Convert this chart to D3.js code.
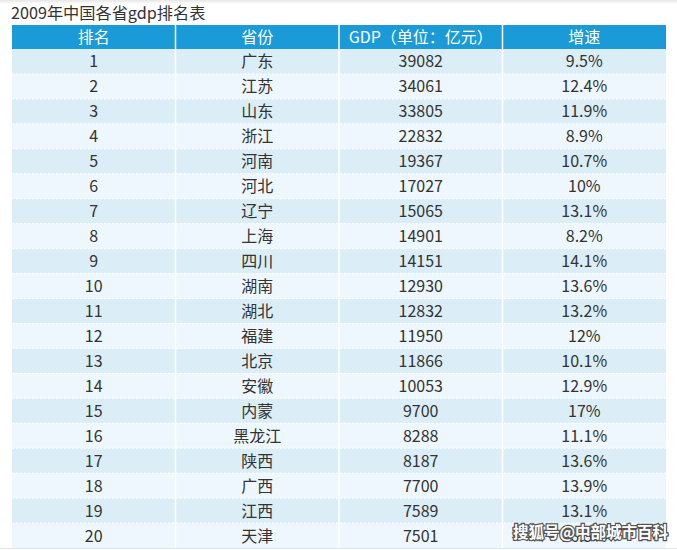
<!DOCTYPE html>
<html>
<head>
<meta charset="utf-8">
<script src="https://cdn.jsdelivr.net/npm/d3@7"></script>
<style>
  body { margin: 0; background: #fff; }
  svg { display: block; }
  text { font-family: "Noto Sans CJK SC", "Microsoft YaHei", sans-serif; }
</style>
</head>
<body>
<svg class="svg"></svg>
<script>
const title = '2009年中国各省gdp排名表';
const headers = ['排名', '省份', 'GDP（单位：亿元）', '增速'];
const ranks = [1, 2, 3, 4, 5, 6, 7, 8, 9, 10, 11, 12, 13, 14, 15, 16, 17, 18, 19, 20];
const provinces = ['广东', '江苏', '山东', '浙江', '河南', '河北', '辽宁', '上海', '四川', '湖南',
  '湖北', '福建', '北京', '安徽', '内蒙', '黑龙江', '陕西', '广西', '江西', '天津'];
const gdp = [39082, 34061, 33805, 22832, 19367, 17027, 15065, 14901, 14151, 12930,
  12832, 11950, 11866, 10053, 9700, 8288, 8187, 7700, 7589, 7501];
const growth = ['9.5%', '12.4%', '11.9%', '8.9%', '10.7%', '10%', '13.1%', '8.2%', '14.1%', '13.6%',
  '13.2%', '12%', '10.1%', '12.9%', '17%', '11.1%', '13.6%', '13.9%', '13.1%', '16.5%'];

const width = 677;
const height = 550;

const svg = d3.select('.svg').attr('width', width).attr('height', height);

// faint shadow along the top edge
const defs = svg.append('defs');
const grad = defs.append('linearGradient')
  .attr('id', 'top-shadow')
  .attr('x1', 0).attr('y1', 0).attr('x2', 0).attr('y2', 1);
grad.append('stop').attr('offset', '0%').attr('stop-color', '#e6e6e6');
grad.append('stop').attr('offset', '100%').attr('stop-color', '#fff');
svg.append('rect').attr('x', 0).attr('y', 0).attr('width', width).attr('height', 4)
  .attr('fill', 'url(#top-shadow)');

svg.append('text')
  .attr('x', 11)
  .attr('y', 19)
  .attr('fill', '#333')
  .attr('font-size', 16.2)
  .text(title);

const rows = ranks.map((r, i) => [r, provinces[i], gdp[i], growth[i]]);

const x = d3.scaleBand()
  .domain(d3.range(headers.length))
  .range([12, 666]);

const headerTop = 25;
const headerH = 24;

const y = d3.scaleBand()
  .domain(d3.range(rows.length))
  .range([headerTop + headerH, 548]);

// header
const head = svg.append('g');
head.selectAll('rect')
  .data(headers)
  .join('rect')
  .attr('x', (d, i) => x(i))
  .attr('y', headerTop)
  .attr('width', x.bandwidth())
  .attr('height', headerH)
  .attr('fill', '#1a9ad6');

head.selectAll('text')
  .data(headers)
  .join('text')
  .attr('x', (d, i) => x(i) + x.bandwidth() / 2)
  .attr('y', headerTop + headerH / 2 + 6)
  .attr('text-anchor', 'middle')
  .attr('fill', '#fff')
  .attr('font-size', 16)
  .text(d => d);

// body
const body = svg.append('g');
const rowG = body.selectAll('g')
  .data(rows)
  .join('g')
  .attr('transform', (d, i) => `translate(0,${y(i)})`);

rowG.append('rect')
  .attr('x', x(0))
  .attr('y', 0)
  .attr('width', x.range()[1] - x.range()[0])
  .attr('height', y.bandwidth())
  .attr('fill', (d, i) => (i % 2 === 0 ? '#dbeef7' : '#eef7fd'));

rowG.selectAll('text')
  .data(d => d)
  .join('text')
  .attr('x', (d, i) => x(i) + x.bandwidth() / 2)
  .attr('y', y.bandwidth() / 2 + 6)
  .attr('text-anchor', 'middle')
  .attr('fill', '#333')
  .attr('font-size', 16)
  .text(d => d);

// white column separators
svg.append('g')
  .selectAll('line')
  .data(d3.range(1, headers.length))
  .join('line')
  .attr('x1', i => x(i))
  .attr('x2', i => x(i))
  .attr('y1', headerTop)
  .attr('y2', y.range()[1])
  .attr('stroke', '#fff')
  .attr('stroke-width', 1.5);

// dotted row separators
svg.append('g')
  .selectAll('line')
  .data(d3.range(1, rows.length))
  .join('line')
  .attr('x1', x.range()[0])
  .attr('x2', x.range()[1])
  .attr('y1', i => y(i))
  .attr('y2', i => y(i))
  .attr('stroke', '#fff')
  .attr('stroke-width', 1)
  .attr('stroke-dasharray', '2,2');

// bottom gray line
svg.append('line')
  .attr('x1', 0).attr('x2', width)
  .attr('y1', 548.5).attr('y2', 548.5)
  .attr('stroke', '#e4e4e4');

// watermark (sits over the last cell, as in the source image)
svg.append('text')
  .attr('x', 668)
  .attr('y', 538)
  .attr('text-anchor', 'end')
  .attr('font-size', 15.5)
  .attr('font-weight', 'bold')
  .attr('fill', '#fff')
  .attr('stroke', '#555')
  .attr('stroke-width', 2.5)
  .attr('paint-order', 'stroke')
  .text('搜狐号@中部城市百科');
</script>
</body>
</html>
